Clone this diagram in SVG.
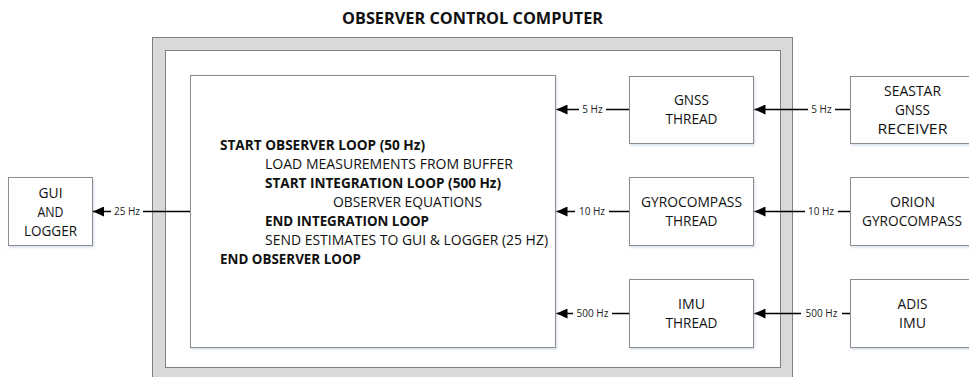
<svg xmlns="http://www.w3.org/2000/svg" width="969" height="377" viewBox="0 0 969 377">
  <defs>
    <style>
      text { font-family: "Open Sans", "Liberation Sans", sans-serif; fill: #111111; }
      .title { font-size: 16.5px; font-weight: bold; text-anchor: middle; }
      .node rect { fill: #ffffff; stroke: #8c8c8c; stroke-width: 1; filter: url(#shadow); }
      .node text { font-size: 15px; text-anchor: middle; }
      .node text.step { text-anchor: start; }
      .node text.bold { font-weight: bold; }
      .wire { stroke: #000000; stroke-width: 1.5; fill: none; marker-end: url(#arrow); }
      .rate { font-size: 10px; text-anchor: middle; fill: #222222; }
      .rate-bg { fill: #ffffff; }
    </style>
    <filter id="shadow" x="-10%" y="-10%" width="130%" height="130%">
      <feDropShadow dx="1" dy="1.5" stdDeviation="1" flood-color="#9fb6d8" flood-opacity="0.45"/>
    </filter>
    <marker id="arrow" viewBox="0 0 11 10" refX="11" refY="5" markerWidth="11" markerHeight="10" markerUnits="userSpaceOnUse" orient="auto">
      <path d="M0,0 L11,5 L0,10 Z" fill="#000000"/>
    </marker>
  </defs>

  <rect width="969" height="377" fill="#ffffff"/>

  <!-- computer enclosure -->
  <g id="computer">
    <text class="title" x="472.5" y="24" textLength="261" lengthAdjust="spacingAndGlyphs">OBSERVER CONTROL COMPUTER</text>
    <rect x="152.5" y="37.5" width="640" height="360" fill="#d9d9d9" stroke="#808080" stroke-width="1"/>
    <rect x="165.5" y="50.5" width="615" height="317" fill="#ffffff" stroke="#808080" stroke-width="1"/>
  </g>

  <!-- observer loop -->
  <g id="observer" class="node">
    <rect x="190.5" y="75.5" width="365" height="272"/>
    <text class="step bold" x="220" y="150" textLength="205" lengthAdjust="spacingAndGlyphs">START OBSERVER LOOP (50 Hz)</text>
    <text class="step" x="265" y="169" textLength="248" lengthAdjust="spacingAndGlyphs">LOAD MEASUREMENTS FROM BUFFER</text>
    <text class="step bold" x="265" y="188" textLength="236" lengthAdjust="spacingAndGlyphs">START INTEGRATION LOOP (500 Hz)</text>
    <text class="step" x="333" y="207" textLength="149" lengthAdjust="spacingAndGlyphs">OBSERVER EQUATIONS</text>
    <text class="step bold" x="265" y="226" textLength="164" lengthAdjust="spacingAndGlyphs">END INTEGRATION LOOP</text>
    <text class="step" x="265" y="245" textLength="283" lengthAdjust="spacingAndGlyphs">SEND ESTIMATES TO GUI &amp; LOGGER (25 HZ)</text>
    <text class="step bold" x="220" y="264" textLength="141" lengthAdjust="spacingAndGlyphs">END OBSERVER LOOP</text>
  </g>

  <!-- threads -->
  <g id="gnss-thread" class="node">
    <rect x="629.5" y="76.5" width="124" height="67"/>
    <text x="691.5" y="105" textLength="35" lengthAdjust="spacingAndGlyphs">GNSS</text>
    <text x="691.5" y="124" textLength="52" lengthAdjust="spacingAndGlyphs">THREAD</text>
  </g>
  <g id="gyro-thread" class="node">
    <rect x="629.5" y="177.5" width="124" height="68"/>
    <text x="691.5" y="207" textLength="101" lengthAdjust="spacingAndGlyphs">GYROCOMPASS</text>
    <text x="691.5" y="226" textLength="52" lengthAdjust="spacingAndGlyphs">THREAD</text>
  </g>
  <g id="imu-thread" class="node">
    <rect x="629.5" y="279.5" width="124" height="68"/>
    <text x="691.5" y="309" textLength="27" lengthAdjust="spacingAndGlyphs">IMU</text>
    <text x="691.5" y="328" textLength="52" lengthAdjust="spacingAndGlyphs">THREAD</text>
  </g>

  <!-- sensors -->
  <g id="gnss-receiver" class="node">
    <rect x="850.5" y="76.5" width="124" height="67"/>
    <text x="912.5" y="96" textLength="57" lengthAdjust="spacingAndGlyphs">SEASTAR</text>
    <text x="912.5" y="115" textLength="35" lengthAdjust="spacingAndGlyphs">GNSS</text>
    <text x="912.5" y="134" textLength="70" lengthAdjust="spacingAndGlyphs">RECEIVER</text>
  </g>
  <g id="gyrocompass" class="node">
    <rect x="850.5" y="177.5" width="124" height="68"/>
    <text x="912.5" y="207" textLength="45" lengthAdjust="spacingAndGlyphs">ORION</text>
    <text x="912" y="226" textLength="100" lengthAdjust="spacingAndGlyphs">GYROCOMPASS</text>
  </g>
  <g id="imu" class="node">
    <rect x="850.5" y="279.5" width="124" height="68"/>
    <text x="912.5" y="309" textLength="30" lengthAdjust="spacingAndGlyphs">ADIS</text>
    <text x="912.5" y="328" textLength="27" lengthAdjust="spacingAndGlyphs">IMU</text>
  </g>

  <!-- gui -->
  <g id="gui" class="node">
    <rect x="8.5" y="177.5" width="84" height="68"/>
    <text x="50.5" y="198" textLength="24" lengthAdjust="spacingAndGlyphs">GUI</text>
    <text x="50.5" y="217" textLength="26" lengthAdjust="spacingAndGlyphs">AND</text>
    <text x="50.5" y="236" textLength="53" lengthAdjust="spacingAndGlyphs">LOGGER</text>
  </g>

  <!-- data flows with rates -->
  <g id="connectors">
    <path class="wire" d="M629,109.5 H556.5"/>
    <rect class="rate-bg" x="579" y="103" width="27" height="13"/>
    <text class="rate" x="592.5" y="113">5 Hz</text>

    <path class="wire" d="M850,109.5 H754.5"/>
    <rect class="rate-bg" x="808" y="103" width="27" height="13"/>
    <text class="rate" x="821.5" y="113">5 Hz</text>

    <path class="wire" d="M629,211.5 H556.5"/>
    <rect class="rate-bg" x="575" y="205" width="34" height="13"/>
    <text class="rate" x="592" y="215">10 Hz</text>

    <path class="wire" d="M850,211.5 H754.5"/>
    <rect class="rate-bg" x="805" y="205" width="33" height="13"/>
    <text class="rate" x="821" y="215">10 Hz</text>

    <path class="wire" d="M629,313.5 H556.5"/>
    <rect class="rate-bg" x="573" y="307" width="39" height="13"/>
    <text class="rate" x="592.5" y="317">500 Hz</text>

    <path class="wire" d="M850,313.5 H754.5"/>
    <rect class="rate-bg" x="801" y="307" width="41" height="13"/>
    <text class="rate" x="821.5" y="317">500 Hz</text>

    <path class="wire" d="M190,211.5 H93"/>
    <rect class="rate-bg" x="111" y="205" width="32" height="13"/>
    <text class="rate" x="127" y="215">25 Hz</text>
  </g>
</svg>
